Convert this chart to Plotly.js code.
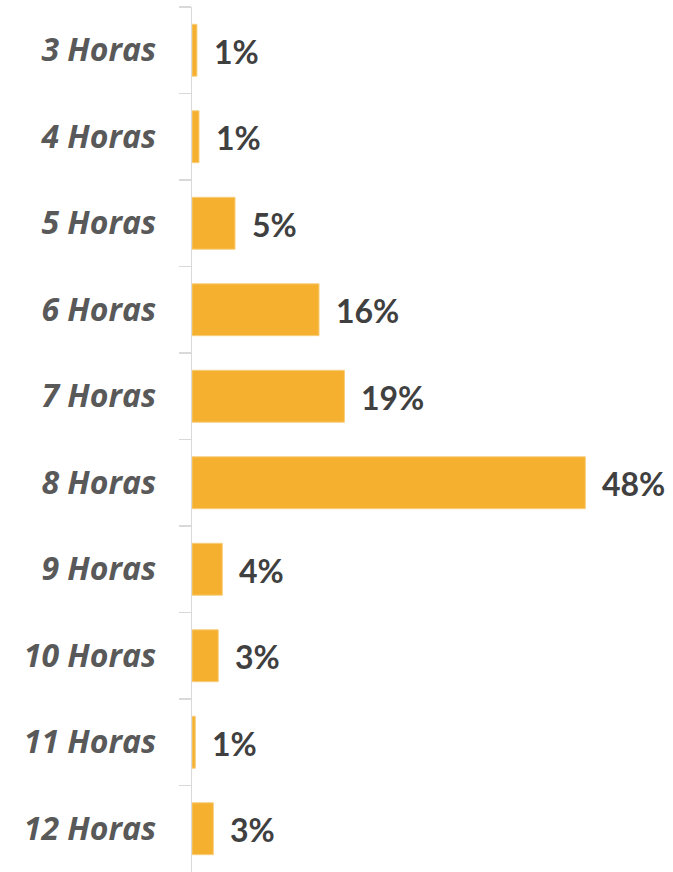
<!DOCTYPE html>
<html><head><meta charset="utf-8">
<script src="https://cdn.plot.ly/plotly-3.0.1.min.js"></script>
<style>html,body{margin:0;padding:0;background:#fff;overflow:hidden}</style>
</head><body>
<div id="chart" style="width:673px;height:872px"></div>
<script>
const categories = ["3 Horas","4 Horas","5 Horas","6 Horas","7 Horas","8 Horas","9 Horas","10 Horas","11 Horas","12 Horas"];
const values = [0.6, 0.85, 5.25, 15.5, 18.6, 48, 3.7, 3.2, 0.4, 2.6];
const labels = ["1%","1%","5%","16%","19%","48%","4%","3%","1%","3%"];

const trace = {
  type: "bar", orientation: "h",
  x: values, y: categories,
  marker: {color: "#F4B02E", line: {color: "#F8CD7C", width: 1}},
  hoverinfo: "none"
};
const annotations = categories.map((c, i) => ({
  x: values[i], y: c, xref: "x", yref: "y",
  text: labels[i], showarrow: false, xanchor: "left", yanchor: "middle",
  xshift: 15, yshift: -1,
  font: {family: "Lato, sans-serif", size: 32, color: "#404040", weight: "bold"}
}));
const layout = {
  width: 673, height: 872,
  margin: {l: 192, r: 0, t: 7, b: 0},
  paper_bgcolor: "#fff", plot_bgcolor: "#fff",
  showlegend: false, bargap: 0.4,
  xaxis: {range: [0, 58.7], visible: false, fixedrange: true},
  yaxis: {
    autorange: "reversed", type: "category",
    showline: true, linecolor: "#D9D9D9", linewidth: 1.5,
    ticks: "outside", tickson: "boundaries", ticklen: 12, tickcolor: "#D9D9D9", tickwidth: 1.5,
    showgrid: false, zeroline: false, ticklabelstandoff: 28,
    tickfont: {family: "'Open Sans', sans-serif", size: 32, color: "#595959", weight: "bold", style: "italic"}
  },
  annotations: annotations
};
Plotly.newPlot("chart", [trace], layout, {displayModeBar: false, staticPlot: true});
</script>
</body></html>
